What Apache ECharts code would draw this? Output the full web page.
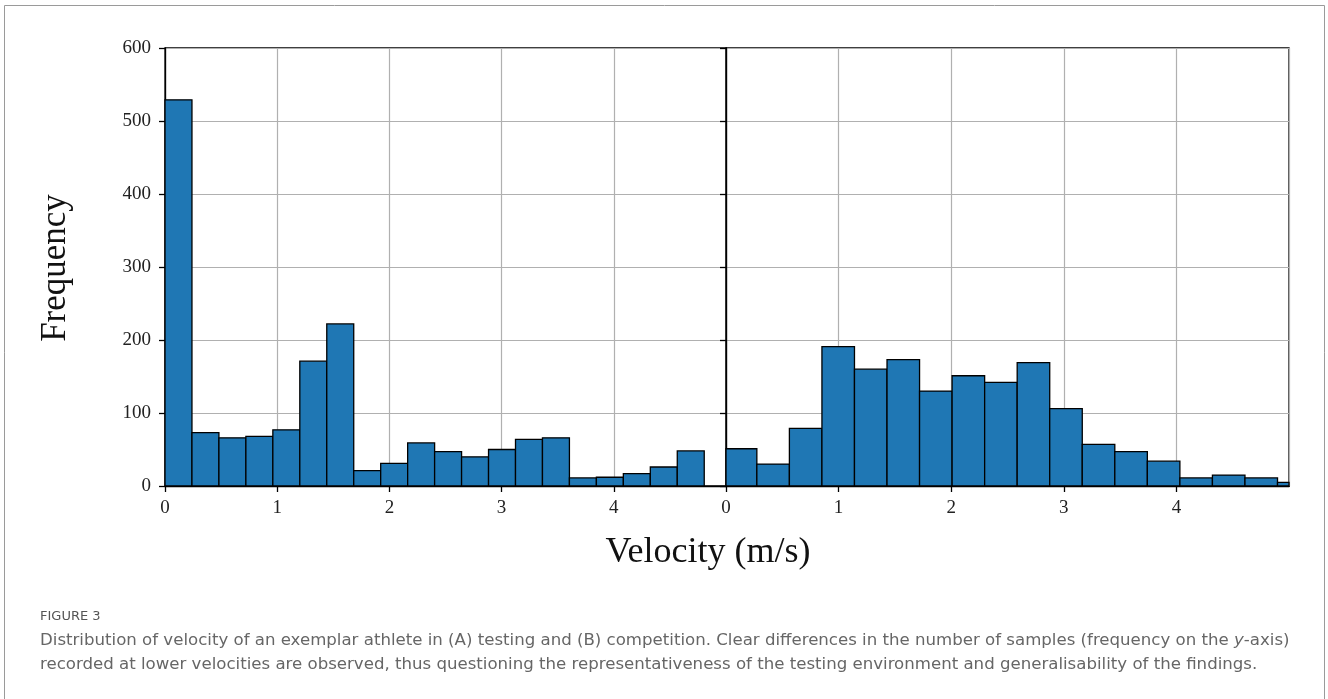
<!DOCTYPE html>
<html>
<head>
<meta charset="utf-8">
<script src="https://cdn.jsdelivr.net/npm/echarts@6/dist/echarts.min.js"></script>
<style>
  html, body { margin: 0; padding: 0; background: #fff; }
  #chart { width: 1328px; height: 699px; }
</style>
</head>
<body>
<div id="chart"></div>
<script>
// panel A (testing): 20 bins starting at 0
const binStartA = 0;
const binWidthA = 0.2403;
const countsA = [529, 73, 66, 68, 77, 171, 222, 21, 31, 59, 47, 40, 50, 64, 66, 11, 12, 17, 26, 48];

// panel B (competition): 18 bins, last one cut by the axis at 5
const binStartB = -0.015;
const binWidthB = 0.289;
const countsB = [51, 30, 79, 191, 160, 173, 130, 151, 142, 169, 106, 57, 47, 34, 11, 15, 11, 5];

const xTicks = [0, 1, 2, 3, 4];
const yTicks = [0, 100, 200, 300, 400, 500, 600];

const captionTitle = 'FIGURE 3';
const captionLine1a = 'Distribution of velocity of an exemplar athlete in (A) testing and (B) competition. Clear differences in the number of samples (frequency on the ';
const captionLine1b = '-axis)';
const captionLine2 = 'recorded at lower velocities are observed, thus questioning the representativeness of the testing environment and generalisability of the findings.';

function toBins(start, width, counts) {
  return counts.map((c, i) => [start + i * width, start + (i + 1) * width, c]);
}

function renderHist(params, api) {
  const p0 = api.coord([api.value(0), api.value(2)]);
  const p1 = api.coord([api.value(1), 0]);
  const shape = echarts.graphic.clipRectByRect({
    x: p0[0], y: p0[1], width: p1[0] - p0[0], height: p1[1] - p0[1]
  }, {
    x: params.coordSys.x, y: params.coordSys.y,
    width: params.coordSys.width, height: params.coordSys.height
  });
  if (!shape) return null;
  return {
    type: 'rect',
    shape: shape,
    style: { fill: '#1f77b4', stroke: '#000', lineWidth: 1.3 }
  };
}

const serif = 'Liberation Serif';
const capFont = 'DejaVu Sans';
const capSize = 16.6;
const gridLine = { show: true, lineStyle: { color: '#b0b0b0', width: 1.2 } };
const blackLine = { show: true, lineStyle: { color: '#000', width: 1.3 } };
const tick = { show: true, inside: false, length: 6, lineStyle: { color: '#000', width: 1.3 } };

function xAxis(idx) {
  return {
    type: 'value', gridIndex: idx, min: 0, max: 5, interval: 1,
    axisLine: blackLine,
    axisTick: tick,
    axisLabel: {
      showMaxLabel: false, margin: 13, fontFamily: serif, fontSize: 19, color: '#222',
      formatter: v => xTicks.includes(v) ? String(v) : ''
    },
    splitLine: gridLine
  };
}

function yAxis(idx, labels) {
  return {
    type: 'value', gridIndex: idx, min: yTicks[0], max: yTicks[yTicks.length - 1], interval: 100,
    axisLine: blackLine,
    axisTick: tick,
    axisLabel: { show: labels, margin: 14, fontFamily: serif, fontSize: 19, color: '#222' },
    splitLine: gridLine
  };
}

const chart = echarts.init(document.getElementById('chart'));
chart.setOption({
  animation: false,
  grid: [
    { left: 165, right: 602, top: 48, bottom: 213, show: true, borderColor: '#000', borderWidth: 1.3 },
    { left: 726, right: 39, top: 48, bottom: 213, show: true, borderColor: '#000', borderWidth: 1.3 }
  ],
  xAxis: [xAxis(0), xAxis(1)],
  yAxis: [yAxis(0, true), yAxis(1, false)],
  series: [
    { type: 'custom', xAxisIndex: 0, yAxisIndex: 0, renderItem: renderHist,
      encode: { x: [0, 1], y: 2 }, data: toBins(binStartA, binWidthA, countsA) },
    { type: 'custom', xAxisIndex: 1, yAxisIndex: 1, renderItem: renderHist,
      encode: { x: [0, 1], y: 2 }, data: toBins(binStartB, binWidthB, countsB) }
  ],
  graphic: [
    { type: 'rect', shape: { x: 4.5, y: 5.5, width: 1320, height: 720 },
      style: { fill: null, stroke: '#9a9a9a', lineWidth: 1 }, silent: true },
    { type: 'text', x: 56, y: 268, rotation: Math.PI / 2,
      style: { text: 'Frequency', font: '35px "Liberation Serif"', fill: '#111',
               textAlign: 'center', textVerticalAlign: 'middle' } },
    { type: 'text', x: 708, y: 553,
      style: { text: 'Velocity (m/s)', font: '36px "Liberation Serif"', fill: '#111',
               textAlign: 'center', textVerticalAlign: 'middle' } },
    { type: 'text', x: 40, y: 617,
      style: { text: captionTitle, font: '13px "DejaVu Sans"', fill: '#555',
               textVerticalAlign: 'middle' } },
    { type: 'text', x: 40, y: 641,
      style: {
        text: '{n|' + captionLine1a + '}{i|y}{n|' + captionLine1b + '}',
        fill: '#666',
        textVerticalAlign: 'middle',
        rich: {
          n: { fontFamily: capFont, fontSize: capSize, fill: '#666' },
          i: { fontFamily: capFont, fontSize: capSize, fontStyle: 'italic', fill: '#666' }
        }
      } },
    { type: 'text', x: 40, y: 665,
      style: { text: captionLine2, fontFamily: capFont, fontSize: capSize, fill: '#666',
               textVerticalAlign: 'middle' } }
  ]
});
</script>
</body>
</html>
